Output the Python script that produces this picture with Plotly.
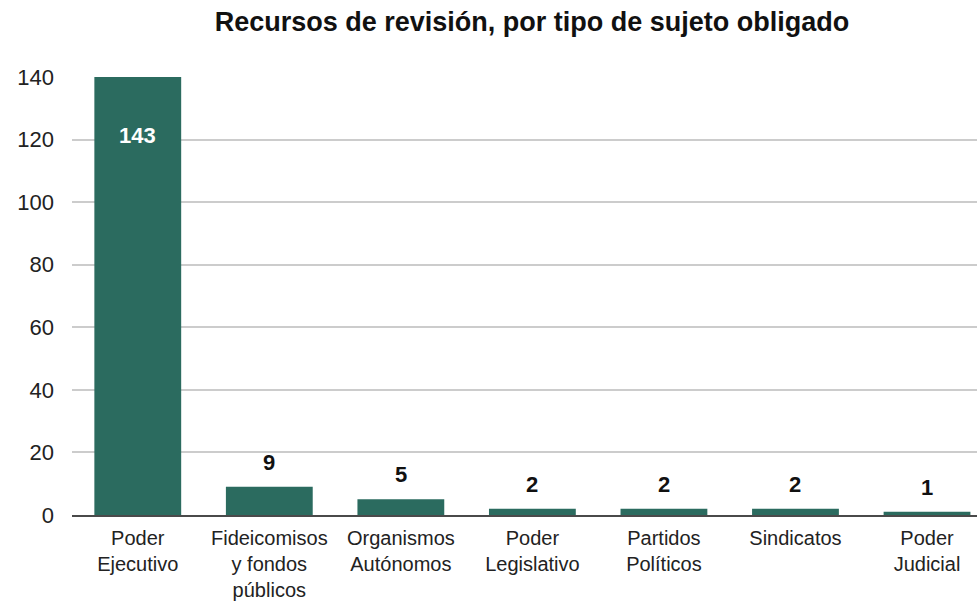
import plotly.graph_objects as go

categorias = [
    "Poder<br>Ejecutivo",
    "Fideicomisos<br>y fondos<br>públicos",
    "Organismos<br>Autónomos",
    "Poder<br>Legislativo",
    "Partidos<br>Políticos",
    "Sindicatos",
    "Poder<br>Judicial",
]
recursos = [143, 9, 5, 2, 2, 2, 1]
y_ticks = [0, 20, 40, 60, 80, 100, 120, 140]

Y_MAX = 140
COLOR_BARRA = "#2B6B5F"
FUENTE = "Liberation Sans, Arial, sans-serif"

x_pos = list(range(len(categorias)))

fig = go.Figure(
    go.Bar(
        x=x_pos,
        y=recursos,
        width=0.66,
        marker=dict(color=COLOR_BARRA, line=dict(width=0)),
        hoverinfo="skip",
    )
)

# Value labels: inside (white) when the bar runs past the axis top, above otherwise
for xi, v in zip(x_pos, recursos):
    if v > Y_MAX:
        fig.add_annotation(
            x=xi, y=Y_MAX, text=f"<b>{v}</b>", showarrow=False,
            yanchor="top", yshift=-44,
            font=dict(family=FUENTE, size=22, color="white"),
        )
    else:
        fig.add_annotation(
            x=xi, y=v, text=f"<b>{v}</b>", showarrow=False,
            yanchor="bottom", yshift=10,
            font=dict(family=FUENTE, size=22, color="#111111"),
        )

fig.update_layout(
    width=977,
    height=601,
    margin=dict(l=72, r=0, t=77, b=84),
    paper_bgcolor="white",
    plot_bgcolor="white",
    showlegend=False,
    title=dict(
        text="<b>Recursos de revisión, por tipo de sujeto obligado</b>",
        x=(72 + 992) / 2 / 977, xanchor="center",
        y=1 - 22 / 601, yanchor="middle",
        font=dict(family=FUENTE, size=27, color="#111111"),
    ),
    font=dict(family=FUENTE, size=20, color="#222222"),
    xaxis=dict(
        range=[-0.5, 6.38],
        tickmode="array",
        tickvals=x_pos,
        ticktext=categorias,
        showgrid=False,
        showline=True,
        linecolor="#4a4a4a",
        linewidth=2,
        ticks="",
        ticklabelstandoff=4,
        tickfont=dict(family=FUENTE, size=20, color="#222222"),
        fixedrange=True,
    ),
    yaxis=dict(
        range=[0, Y_MAX],
        tickmode="array",
        tickvals=y_ticks,
        showgrid=True,
        gridcolor="#cccccc",
        gridwidth=2,
        zeroline=False,
        showline=False,
        ticks="",
        ticklabelstandoff=17,
        tickfont=dict(family=FUENTE, size=22, color="#222222"),
        fixedrange=True,
    ),
)

fig.write_html("out.html", config={"displayModeBar": False})
